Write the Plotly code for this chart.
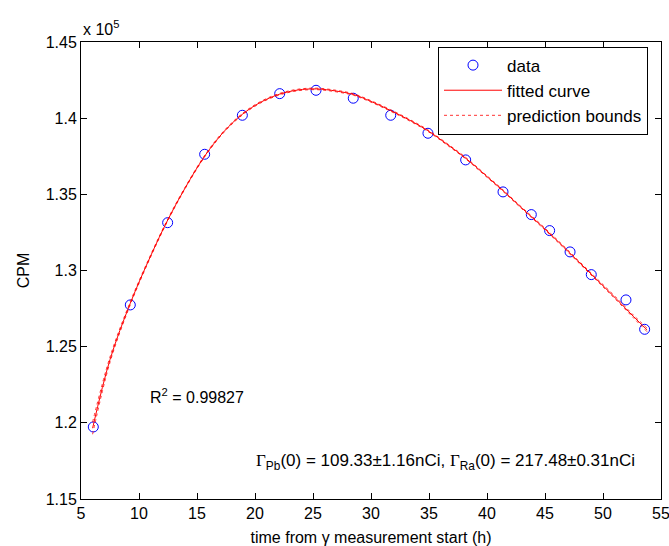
import plotly.graph_objects as go

# Measured data (CPM in units of 1e5)
time_h = [6.06, 9.25, 12.47, 15.66, 18.91, 22.13, 25.26, 28.47, 31.70, 34.91,
          38.16, 41.38, 43.82, 45.40, 47.16, 48.99, 51.98, 53.59]
cpm_e5 = [1.1973, 1.2774, 1.3314, 1.3763, 1.4019, 1.4161, 1.4183, 1.4131, 1.4019, 1.3901,
          1.3726, 1.3516, 1.3367, 1.3262, 1.3122, 1.2973, 1.2807, 1.2614]

# Fitted curve
fit_t = [6.0, 7.5, 9.25, 11.0, 12.5, 14.0, 15.7, 17.3, 18.9, 20.5, 22.1, 23.7, 25.3, 27.0, 28.5,
         30.0, 31.7, 33.3, 34.9, 36.5, 38.2, 39.8, 41.4, 43.0, 44.6, 46.2, 47.8, 49.4, 51.0, 52.6, 53.8]
fit_y = [1.1965, 1.2415, 1.2785, 1.3095, 1.3335, 1.3545, 1.3755, 1.3910, 1.4025, 1.4105, 1.4157,
         1.4185, 1.4192, 1.4178, 1.4155, 1.4110, 1.4050, 1.3988, 1.3918, 1.3832, 1.3735, 1.3630,
         1.3523, 1.3410, 1.3300, 1.3185, 1.3065, 1.2945, 1.2825, 1.2700, 1.2610]
lower_y = [1.1925, 1.2397, 1.2775, 1.3088, 1.3329, 1.3540, 1.3750, 1.3905, 1.4020, 1.4100, 1.4152,
           1.4180, 1.4187, 1.4173, 1.4150, 1.4105, 1.4045, 1.3983, 1.3913, 1.3827, 1.3730, 1.3625,
           1.3518, 1.3405, 1.3294, 1.3179, 1.3058, 1.2938, 1.2817, 1.2691, 1.2598]
upper_y = [1.2005, 1.2433, 1.2795, 1.3102, 1.3341, 1.3550, 1.3760, 1.3915, 1.4030, 1.4110, 1.4162,
           1.4190, 1.4197, 1.4183, 1.4160, 1.4115, 1.4055, 1.3993, 1.3923, 1.3837, 1.3740, 1.3635,
           1.3528, 1.3415, 1.3306, 1.3191, 1.3072, 1.2952, 1.2833, 1.2709, 1.2622]

x_ticks = [5, 10, 15, 20, 25, 30, 35, 40, 45, 50, 55]
y_ticks = [1.15, 1.2, 1.25, 1.3, 1.35, 1.4, 1.45]
y_ticklabels = ["1.15", "1.2", "1.25", "1.3", "1.35", "1.4", "1.45"]

FONT = "Liberation Sans, Arial, sans-serif"
GAMMA = '<span style="font-family:Liberation Serif, DejaVu Serif, serif">Γ</span>'

fig = go.Figure()
fig.add_trace(go.Scatter(
    x=time_h, y=cpm_e5, mode="markers", name="data", legendgroup="a", legendrank=1,
    marker=dict(symbol="circle-open", size=10, color="#0000ff", line=dict(width=1, color="#0000ff")),
))
fig.add_trace(go.Scatter(
    x=fit_t, y=lower_y, mode="lines", name="prediction bounds", legendgroup="c", legendrank=3,
    line=dict(color="#ff0000", width=1, dash="dot", shape="spline"), opacity=0.8,
))
fig.add_trace(go.Scatter(
    x=fit_t, y=upper_y, mode="lines", name="prediction bounds", legendgroup="c", showlegend=False,
    legendrank=3,
    line=dict(color="#ff0000", width=1, dash="dot", shape="spline"), opacity=0.8,
))
fig.add_trace(go.Scatter(
    x=fit_t, y=fit_y, mode="lines", name="fitted curve", legendgroup="b", legendrank=2,
    line=dict(color="#ff0000", width=1, shape="spline"),
))

axis_common = dict(
    showline=True, linecolor="black", linewidth=1, mirror="ticks",
    ticks="inside", ticklen=6, tickcolor="black", tickwidth=1,
    showgrid=False, zeroline=False, ticklabeloverflow="allow", automargin=False,
    tickfont=dict(family=FONT, size=16, color="black"),
)

fig.update_xaxes(range=[5, 55], tickvals=x_ticks,
                 title=dict(text="time from γ measurement start (h)",
                            font=dict(family=FONT, size=16, color="black"), standoff=10),
                 **axis_common)
fig.update_yaxes(range=[1.15, 1.45], tickvals=y_ticks, ticktext=y_ticklabels,
                 title=dict(text="CPM", font=dict(family=FONT, size=16, color="black"), standoff=12),
                 **axis_common)

fig.add_annotation(x=0, y=1, xref="paper", yref="paper", xanchor="left", yanchor="bottom",
                   text="x 10<sup>5</sup>", showarrow=False, yshift=2,
                   font=dict(family=FONT, size=16, color="black"))
fig.add_annotation(x=10.75, y=1.2176, xref="x", yref="y", xanchor="left", yanchor="middle",
                   text="R<sup>2</sup> = 0.99827", showarrow=False,
                   font=dict(family=FONT, size=16, color="black"))
fig.add_annotation(x=52.93, y=1.1743, xref="x", yref="y", xanchor="right", yanchor="middle",
                   text=GAMMA + "<sub>Pb</sub>(0) = 109.33±1.16nCi, " + GAMMA
                        + "<sub>Ra</sub>(0) = 217.48±0.31nCi",
                   showarrow=False, font=dict(family=FONT, size=17, color="black"))

fig.update_layout(
    width=669, height=546,
    margin=dict(l=81, r=8, t=42, b=47),
    paper_bgcolor="white", plot_bgcolor="white",
    font=dict(family=FONT, size=16, color="black"),
    legend=dict(x=0.9776, y=0.99, xanchor="right", yanchor="top",
                bgcolor="white", bordercolor="black", borderwidth=1,
                itemwidth=58, tracegroupgap=0, traceorder="grouped",
                font=dict(family=FONT, size=17, color="black")),
)

fig.write_html("out.html")
